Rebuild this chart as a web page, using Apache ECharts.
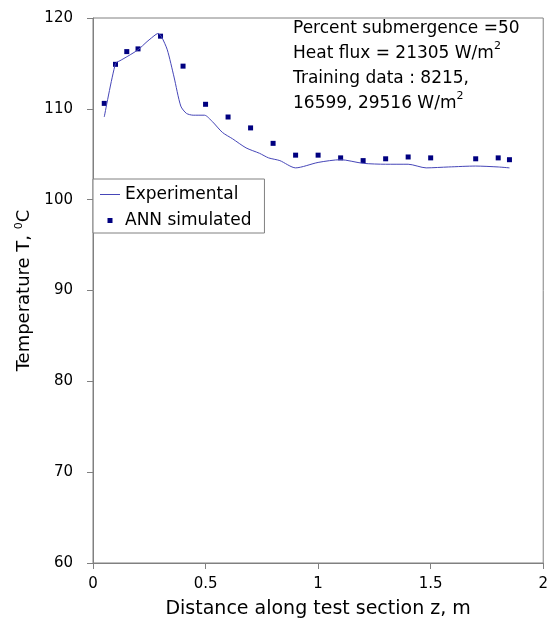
<!DOCTYPE html>
<html>
<head>
<meta charset="utf-8">
<script src="https://cdn.jsdelivr.net/npm/echarts@6/dist/echarts.min.js"></script>
<style>
  html, body { margin: 0; padding: 0; background: #fff; }
  #main { width: 551px; height: 630px; }
</style>
</head>
<body>
<div id="main"></div>
<script>
// experimental curve
var expX = [0.05, 0.1, 0.12, 0.155, 0.2, 0.24, 0.28, 0.29, 0.305, 0.33, 0.36, 0.39, 0.415, 0.445, 0.495, 0.53, 0.575, 0.62, 0.68, 0.74, 0.78, 0.83, 0.9, 1.0, 1.1, 1.2, 1.3, 1.4, 1.48, 1.58, 1.7, 1.8, 1.85]
var expT = [109.1, 115.0, 115.3, 115.8, 116.5, 117.4, 118.2, 118.3, 117.9, 116.5, 113.5, 110.3, 109.5, 109.3, 109.3, 108.6, 107.4, 106.7, 105.7, 105.1, 104.6, 104.3, 103.5, 104.1, 104.4, 104.0, 103.9, 103.9, 103.5, 103.6, 103.7, 103.6, 103.5]

// ANN simulated points
var annX = [0.05, 0.1, 0.15, 0.2, 0.3, 0.4, 0.5, 0.6, 0.7, 0.8, 0.9, 1.0, 1.1, 1.2, 1.3, 1.4, 1.5, 1.7, 1.8, 1.85]
var annT = [110.6, 114.9, 116.3, 116.6, 118.0, 114.7, 110.5, 109.1, 107.9, 106.2, 104.9, 104.9, 104.6, 104.3, 104.5, 104.7, 104.6, 104.5, 104.6, 104.4]

var noteLines = [
  '{t|Percent submergence =50}',
  '{t|Heat flux = 21305 W/m}{s|2}',
  '{t|Training data : 8215,}',
  '{t|16599, 29516 W/m}{s|2}'
]

var font = 'DejaVu Sans'
var axisGray = '#808080'

var myChart = echarts.init(document.getElementById('main'))

myChart.setOption({
  backgroundColor: '#fff',
  animation: false,
  textStyle: { fontFamily: font, color: '#000' },
  grid: {
    left: 93, top: 18, right: 6, bottom: 67,
    show: true,
    borderColor: axisGray,
    borderWidth: 1
  },
  legend: {
    orient: 'vertical',
    left: 93,
    top: 179,
    padding: [7, 13, 4, 7],
    itemGap: 9,
    itemWidth: 20,
    itemHeight: 14,
    borderColor: axisGray,
    borderWidth: 1,
    backgroundColor: '#fff',
    textStyle: { fontFamily: font, fontSize: 17, color: '#000' },
    data: [
      // icons drawn in a 20x14 box: a thin line, and a small square
      { name: 'Experimental', icon: 'path://M0,0M20,14M0,6.5h20v1h-20z' },
      { name: 'ANN simulated', icon: 'path://M0,0M20,14M7.5,4.5h5v5h-5z' }
    ]
  },
  xAxis: {
    type: 'value',
    min: 0, max: 2, interval: 0.5,
    name: 'Distance along test section z, m',
    nameLocation: 'middle',
    nameGap: 37,
    nameTextStyle: { fontFamily: font, fontSize: 19, color: '#000' },
    axisLine: { lineStyle: { color: axisGray } },
    axisTick: { inside: false, length: 6, lineStyle: { color: axisGray } },
    axisLabel: { fontFamily: font, fontSize: 15, color: '#000', margin: 14 },
    splitLine: { show: false }
  },
  yAxis: {
    type: 'value',
    min: 60, max: 120, interval: 10,
    name: '{a|Temperature T, }{s|0}{a|C}',
    nameLocation: 'middle',
    nameGap: 50,
    nameTextStyle: {
      rich: {
        a: { fontFamily: font, fontSize: 18, color: '#000' },
        s: { fontFamily: font, fontSize: 11, color: '#000', verticalAlign: 'top', lineHeight: 22 }
      }
    },
    axisLine: { show: true, lineStyle: { color: axisGray } },
    axisTick: { show: true, inside: false, length: 6, lineStyle: { color: axisGray } },
    axisLabel: { fontFamily: font, fontSize: 15, color: '#000', margin: 20 },
    splitLine: { show: false }
  },
  graphic: [{
    type: 'text',
    left: 293,
    top: 20,
    style: {
      text: noteLines.join('\n'),
      rich: {
        t: { fontFamily: font, fontSize: 17, fill: '#000', lineHeight: 25 },
        s: { fontFamily: font, fontSize: 11, fill: '#000', verticalAlign: 'top', lineHeight: 25 }
      }
    }
  }],
  series: [{
    name: 'Experimental',
    type: 'line',
    smooth: 0.25,
    symbol: 'none',
    lineStyle: { color: '#4646b8', width: 1 },
    itemStyle: { color: '#4646b8' },
    data: expX.map(function (x, i) { return [x, expT[i]] })
  }, {
    name: 'ANN simulated',
    type: 'scatter',
    symbol: 'rect',
    symbolSize: 5,
    itemStyle: { color: '#000080', opacity: 1 },
    data: annX.map(function (x, i) { return [x, annT[i]] })
  }]
})
</script>
</body>
</html>
